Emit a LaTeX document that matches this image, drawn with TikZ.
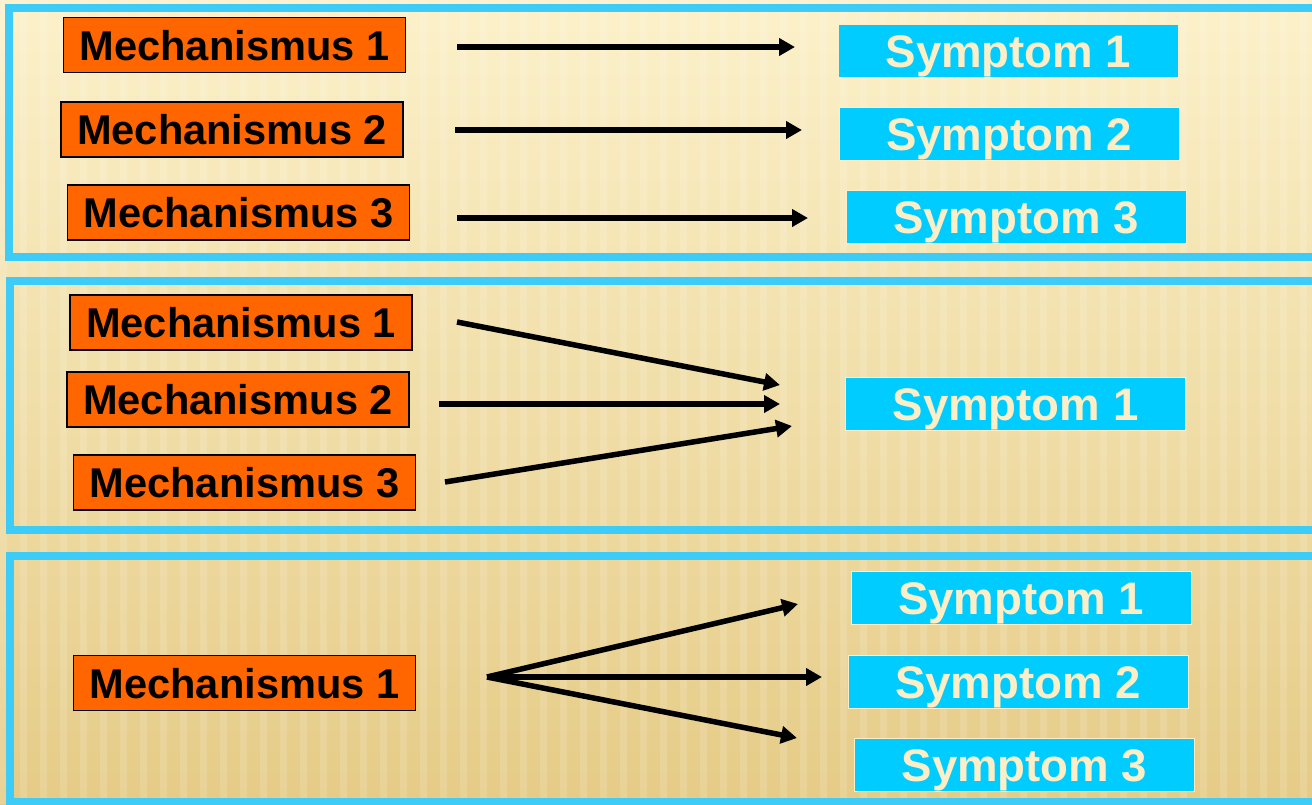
\documentclass[tikz,border=0pt]{standalone}
\usepackage{fontspec}
\setmainfont{Liberation Sans}
\usetikzlibrary{arrows.meta}
\definecolor{mechorange}{HTML}{FF6600}
\definecolor{sympcyan}{HTML}{00CCFF}
\definecolor{sympcream}{HTML}{FCEFC8}
\definecolor{framecyan}{HTML}{3DCCF8}
\definecolor{bgtop}{HTML}{FCF1CA}
\definecolor{bgmid}{HTML}{F8E8B6}
\definecolor{bgbottom}{HTML}{E5CB86}
\tikzset{
  mech/.style={draw=black, line width=1.2pt, fill=mechorange, minimum width=342pt,
    minimum height=55pt, inner sep=0pt, text height=30pt, text depth=-2pt,
    font=\fontsize{41.6}{48}\selectfont\bfseries},
  symp/.style={draw=sympcream, line width=1pt, fill=sympcyan, text=sympcream,
    minimum width=340pt, minimum height=53pt, inner sep=0pt, text height=33pt,
    text depth=0pt, font=\fontsize{45.6}{52}\selectfont\bfseries},
  panel/.style={draw=framecyan, line width=8pt},
  link/.style={line width=5.5pt, -{Triangle[length=16pt,width=17pt]}},
}
\begin{document}
\begin{tikzpicture}[x=1pt,y=1pt,yscale=-1,xscale=1]
  \useasboundingbox (0,0) rectangle (1312,804);
  \clip (0,0) rectangle (1312,804);
  \shade[top color=bgtop, middle color=bgmid, bottom color=bgbottom] (0,0) rectangle (1312,804);
  \foreach \i in {0,...,66}
    \fill[white, opacity=.14] (\i*20,0) rectangle ++(7,804);

  \draw[panel] (9,8) rectangle (1340,257);
  \draw[panel] (9.5,281) rectangle (1340,530);
  \draw[panel] (9.5,555.5) rectangle (1340,802);

  \node[mech] (m11) at (234.5,45) {Mechanismus 1};
  \node[mech] (m12) at (232,129.5) {Mechanismus 2};
  \node[mech] (m13) at (238.5,212.5) {Mechanismus 3};
  \node[symp] (s11) at (1008.5,50.5) {Symptom 1};
  \node[symp] (s12) at (1009,133.5) {Symptom 2};
  \node[symp] (s13) at (1016,217) {Symptom 3};

  \node[mech] (m21) at (241,322.5) {Mechanismus 1};
  \node[mech] (m22) at (238,399.5) {Mechanismus 2};
  \node[mech] (m23) at (244.5,482.5) {Mechanismus 3};
  \node[symp] (s21) at (1015.5,403.5) {Symptom 1};

  \node[mech] (m31) at (244.5,683) {Mechanismus 1};
  \node[symp] (s31) at (1021,598) {Symptom 1};
  \node[symp] (s32) at (1018,681.5) {Symptom 2};
  \node[symp] (s33) at (1024.5,764.5) {Symptom 3};

  \coordinate (a11) at (457,47);  \coordinate (b11) at (795,47);
  \coordinate (a12) at (455,130); \coordinate (b12) at (802,130);
  \coordinate (a13) at (457,218); \coordinate (b13) at (808,218);
  \draw[link] (a11) -- (b11);
  \draw[link] (a12) -- (b12);
  \draw[link] (a13) -- (b13);

  \coordinate (a21) at (457,322); \coordinate (b21) at (780,385);
  \coordinate (a22) at (439,404); \coordinate (b22) at (780,404);
  \coordinate (a23) at (445,482); \coordinate (b23) at (792,426);
  \draw[link] (a21) -- (b21);
  \draw[link] (a22) -- (b22);
  \draw[link] (a23) -- (b23);

  \coordinate (fan) at (487,677);
  \coordinate (b31) at (798,604);
  \coordinate (b32) at (822,677);
  \coordinate (b33) at (797,738);
  \draw[link] (fan) -- (b31);
  \draw[link] (fan) -- (b32);
  \draw[link] (fan) -- (b33);
\end{tikzpicture}
\end{document}
